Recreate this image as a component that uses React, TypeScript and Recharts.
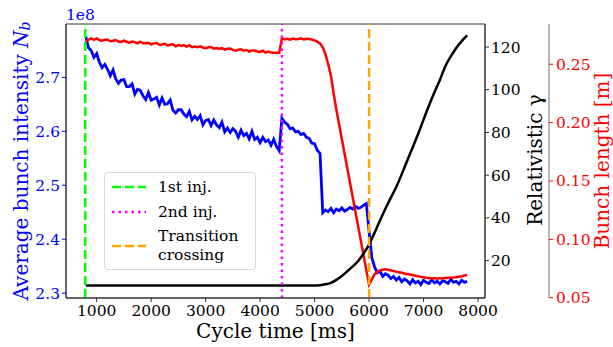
import React from 'react'
import {
  LineChart,
  Line,
  XAxis,
  YAxis,
  ReferenceLine,
  ReferenceArea,
  Legend,
} from 'recharts'

const FONT = '"DejaVu Serif", serif'

// cycle time grid for the measured signals [ms]
const timeMs = [
  800, 850, 900, 950, 1000, 1050, 1100, 1150, 1200, 1250,
  1300, 1350, 1400, 1450, 1500, 1550, 1600, 1650, 1700, 1750,
  1800, 1850, 1900, 1950, 2000, 2050, 2100, 2150, 2200, 2250,
  2300, 2350, 2400, 2450, 2500, 2550, 2600, 2650, 2700, 2750,
  2800, 2850, 2900, 2950, 3000, 3050, 3100, 3150, 3200, 3250,
  3300, 3350, 3400, 3450, 3500, 3550, 3600, 3650, 3700, 3750,
  3800, 3850, 3900, 3950, 4000, 4050, 4100, 4150, 4200, 4250,
  4300, 4350, 4400, 4450, 4500, 4550, 4600, 4650, 4700, 4750,
  4800, 4850, 4900, 4950, 5000, 5050, 5100, 5150, 5200, 5250,
  5300, 5350, 5400, 5450, 5500, 5550, 5600, 5650, 5700, 5750,
  5800, 5850, 5900, 5950, 6000, 6050, 6100, 6150, 6200, 6250,
  6300, 6350, 6400, 6450, 6500, 6550, 6600, 6650, 6700, 6750,
  6800, 6850, 6900, 6950, 7000, 7050, 7100, 7150, 7200, 7250,
  7300, 7350, 7400, 7450, 7500, 7550, 7600, 7650, 7700, 7750,
  7800,
]

// average bunch intensity [1e8]
const intensityE8 = [
  2.776, 2.755, 2.75, 2.737, 2.744, 2.728, 2.718, 2.724, 2.715, 2.703,
  2.714, 2.697, 2.689, 2.695, 2.696, 2.683, 2.683, 2.688, 2.669, 2.678,
  2.676, 2.666, 2.659, 2.672, 2.658, 2.66, 2.663, 2.649, 2.662, 2.65,
  2.651, 2.658, 2.639, 2.634, 2.64, 2.64, 2.632, 2.627, 2.637, 2.621,
  2.628, 2.622, 2.629, 2.612, 2.62, 2.622, 2.611, 2.621, 2.612, 2.607,
  2.617, 2.599, 2.606, 2.598, 2.605, 2.6, 2.589, 2.602, 2.592, 2.596,
  2.586, 2.6, 2.585, 2.589, 2.579, 2.589, 2.581, 2.584, 2.574, 2.585,
  2.572, 2.564, 2.624, 2.617, 2.613, 2.605, 2.606, 2.599, 2.6, 2.594,
  2.596, 2.589, 2.587, 2.578, 2.577, 2.565, 2.559, 2.449, 2.454, 2.451,
  2.457, 2.449, 2.456, 2.453, 2.458, 2.452, 2.455, 2.459, 2.456, 2.461,
  2.457, 2.459, 2.463, 2.466, 2.415, 2.366, 2.349, 2.338, 2.341, 2.331,
  2.336, 2.333, 2.327, 2.331, 2.324, 2.329, 2.321, 2.326, 2.323, 2.317,
  2.325, 2.319, 2.322, 2.316, 2.324, 2.32, 2.318, 2.325, 2.319, 2.322,
  2.317, 2.323, 2.321, 2.318, 2.326, 2.32, 2.322, 2.317, 2.324, 2.32,
  2.322,
]

// bunch length [m]
const bunchLengthM = [
  0.2694, 0.2712, 0.2721, 0.2709, 0.2721, 0.2708, 0.2701, 0.271, 0.271, 0.2697,
  0.2702, 0.2708, 0.2695, 0.2691, 0.2702, 0.2693, 0.2683, 0.2694, 0.269, 0.268,
  0.2694, 0.268, 0.268, 0.2684, 0.2671, 0.2679, 0.2682, 0.2668, 0.2669, 0.2675,
  0.2662, 0.2667, 0.2671, 0.2654, 0.2664, 0.2659, 0.2662, 0.2652, 0.2663, 0.2646,
  0.2652, 0.2646, 0.2653, 0.2644, 0.2637, 0.2646, 0.2648, 0.2634, 0.2639, 0.2633,
  0.2638, 0.2626, 0.2633, 0.2635, 0.2623, 0.2617, 0.2624, 0.2628, 0.2617, 0.2622,
  0.2609, 0.2617, 0.2618, 0.261, 0.2606, 0.2616, 0.26, 0.2608, 0.26, 0.2599,
  0.2598, 0.2597, 0.2723, 0.2712, 0.2718, 0.271, 0.272, 0.2714, 0.2717, 0.2722,
  0.2713, 0.2719, 0.2716, 0.2712, 0.2704, 0.2694, 0.2678, 0.2645, 0.2585, 0.25,
  0.24, 0.225, 0.211, 0.1985, 0.186, 0.1735, 0.161, 0.1485, 0.136, 0.1235,
  0.111, 0.0985, 0.086, 0.0735, 0.0612, 0.0655, 0.07, 0.0722, 0.0733, 0.074,
  0.0743, 0.0739, 0.0734, 0.0728, 0.0723, 0.0718, 0.0713, 0.0707, 0.0702, 0.0698,
  0.0694, 0.0688, 0.0683, 0.0678, 0.0675, 0.0671, 0.0669, 0.0667, 0.0666, 0.0665,
  0.0666, 0.0666, 0.0668, 0.067, 0.0671, 0.0673, 0.0675, 0.068, 0.0684, 0.0689,
  0.0694,
]

// relativistic gamma along the ramp
const gammaTimeMs = [
  800, 5000, 5100, 5200, 5300, 5400, 5500, 5600, 5700, 5800,
  5900, 6000, 6100, 6200, 6300, 6400, 6500, 6600, 6700, 6800,
  6900, 7000, 7100, 7200, 7300, 7400, 7500, 7600, 7700, 7800,
]
const gamma = [
  8.3, 8.3, 8.5, 8.9, 9.6, 11.0, 12.8, 15.0, 17.3, 19.8,
  23.4, 27.5, 33.0, 38.8, 44.3, 49.5, 54.5, 60.5, 66.8, 73.0,
  79.3, 86.0, 92.6, 98.8, 104.6, 111.0, 115.6, 119.6, 122.8, 125.5,
]

const firstInjectionMs = 790
const secondInjectionMs = 4400
const transitionMs = 6000

const xTicks = [1000, 2000, 3000, 4000, 5000, 6000, 7000, 8000]
const intensityTicks = [2.3, 2.4, 2.5, 2.6, 2.7]
const gammaTicks = [20, 40, 60, 80, 100, 120]
const lengthTicks = [0.05, 0.1, 0.15, 0.2, 0.25]

const intensityData = timeMs.map((t, i) => ({ t, v: intensityE8[i] }))
const lengthData = timeMs.map((t, i) => ({ t, v: bunchLengthM[i] }))
const gammaData = gammaTimeMs.map((t, i) => ({ t, v: gamma[i] }))

const legendItems = [
  { lines: ['1st inj.'], color: '#00ff00', dash: '9 4' },
  { lines: ['2nd inj.'], color: '#ff00ff', dash: '2.5 4' },
  { lines: ['Transition', 'crossing'], color: '#ffa500', dash: '9 4' },
]

// tick renderer so the serif font is applied directly on each label
function makeTick(anchor: 'start' | 'middle' | 'end', color: string, digits?: number) {
  return (props: any) => {
    const { x, y, payload } = props
    const v = payload.value as number
    const label = digits === undefined ? String(v) : v.toFixed(digits)
    return (
      <text
        x={x}
        y={y}
        dy={anchor === 'middle' ? '0.71em' : '0.355em'}
        textAnchor={anchor}
        fontFamily={FONT}
        fontSize={15.5}
        fill={color}
      >
        {label}
      </text>
    )
  }
}

function LegendBox() {
  let top = 5
  const rows = legendItems.map((item) => {
    const h = item.lines.length * 18.5
    const row = (
      <div key={item.lines[0]} style={{ position: 'absolute', left: 0, top, width: 150, height: h }}>
        <svg width={34} height={6} style={{ position: 'absolute', left: 7, top: h / 2 - 3 }}>
          <line x1={0} y1={3} x2={34} y2={3} stroke={item.color} strokeWidth={2.5} strokeDasharray={item.dash} />
        </svg>
        <svg width={96} height={h} style={{ position: 'absolute', left: 53, top: 0 }}>
          {item.lines.map((l, k) => (
            <text key={l} x={0} y={k * 18.5 + 14} fontFamily={FONT} fontSize={15.5} fill="#000">
              {l}
            </text>
          ))}
        </svg>
      </div>
    )
    top += h + 6
    return row
  })
  return (
    <div
      style={{
        position: 'relative',
        width: 152,
        height: 98,
        boxSizing: 'border-box',
        border: '1px solid #d6d6d6',
        borderRadius: 4,
        background: 'rgba(255,255,255,0.8)',
      }}
    >
      {rows}
    </div>
  )
}

export default function App() {
  return (
    <div
      style={{
        position: 'absolute',
        left: 0,
        top: 0,
        width: 613,
        height: 347,
        background: '#fff',
        fontFamily: FONT,
      }}
    >
      <LineChart width={613} height={347} margin={{ top: 24, right: 0, bottom: 0, left: 0 }}>
        <XAxis
          type="number"
          dataKey="t"
          domain={[437, 8128]}
          allowDataOverflow
          ticks={xTicks}
          tick={makeTick('middle', '#000')}
          tickSize={4}
          tickMargin={3}
          height={49}
          stroke="#333"
        />
        <YAxis
          yAxisId="left"
          orientation="left"
          domain={[2.291, 2.799]}
          allowDataOverflow
          ticks={intensityTicks}
          tick={makeTick('end', '#0000ff', 1)}
          tickLine={{ stroke: '#0000ff' }}
          axisLine={{ stroke: '#333' }}
          tickSize={4}
          tickMargin={2}
          width={66}
        />
        <YAxis
          yAxisId="gamma"
          orientation="right"
          domain={[2.5, 130.8]}
          allowDataOverflow
          ticks={gammaTicks}
          tick={makeTick('start', '#000')}
          tickLine={{ stroke: '#333' }}
          axisLine={{ stroke: '#333' }}
          tickSize={4}
          tickMargin={2}
          width={64}
        />
        <YAxis
          yAxisId="length"
          orientation="right"
          domain={[0.0497, 0.2845]}
          allowDataOverflow
          ticks={lengthTicks}
          tick={makeTick('start', '#ff0000', 2)}
          tickLine={{ stroke: '#ff0000' }}
          axisLine={{ stroke: '#a0a0a0', strokeWidth: 1.5 }}
          tickSize={4}
          tickMargin={3}
          width={64}
        />
        <ReferenceArea
          yAxisId="left"
          x1={437}
          x2={8128}
          y1={2.291}
          y2={2.799}
          fill="none"
          stroke="#333"
          ifOverflow="visible"
        />
        <Line
          yAxisId="left"
          data={intensityData}
          dataKey="v"
          type="linear"
          stroke="#0000ff"
          strokeWidth={2.8}
          dot={false}
          isAnimationActive={false}
        />
        <Line
          yAxisId="length"
          data={lengthData}
          dataKey="v"
          type="linear"
          stroke="#ff0000"
          strokeWidth={2.5}
          dot={false}
          isAnimationActive={false}
        />
        <Line
          yAxisId="gamma"
          data={gammaData}
          dataKey="v"
          type="monotone"
          stroke="#000"
          strokeWidth={2.5}
          dot={false}
          isAnimationActive={false}
        />
        <ReferenceLine yAxisId="left" x={firstInjectionMs} stroke="#00ff00" strokeWidth={2.5} strokeDasharray="9 4" />
        <ReferenceLine yAxisId="left" x={secondInjectionMs} stroke="#ff00ff" strokeWidth={2.5} strokeDasharray="2.5 4" />
        <ReferenceLine yAxisId="left" x={transitionMs} stroke="#ffa500" strokeWidth={2.5} strokeDasharray="9 4" />
        <Legend
          layout="horizontal"
          align="center"
          verticalAlign="middle"
          wrapperStyle={{ left: 104, top: 172, width: 152, height: 98 }}
          content={() => <LegendBox />}
        />
      </LineChart>
      <svg
        width={613}
        height={347}
        style={{ position: 'absolute', left: 0, top: 0, pointerEvents: 'none' }}
        fontFamily={FONT}
      >
        <text x={66} y={20} fontSize={15.5} fill="#0000ff">1e8</text>
        <text
          x={21}
          y={161}
          fontSize={20}
          fill="#0000ff"
          textAnchor="middle"
          dominantBaseline="central"
          transform="rotate(-90, 21, 161)"
        >
          Average bunch intensity <tspan fontStyle="italic">N</tspan>
          <tspan fontStyle="italic" fontSize={14} dy={4}>b</tspan>
        </text>
        <text x={275.5} y={338} fontSize={20} fill="#000" textAnchor="middle">
          Cycle time [ms]
        </text>
        <text
          x={535}
          y={160}
          fontSize={20}
          fill="#000"
          textAnchor="middle"
          dominantBaseline="central"
          transform="rotate(-90, 535, 160)"
        >
          Relativistic γ
        </text>
        <text
          x={602}
          y={161}
          fontSize={20}
          fill="#ff0000"
          textAnchor="middle"
          dominantBaseline="central"
          transform="rotate(-90, 602, 161)"
        >
          Bunch length [m]
        </text>
      </svg>
    </div>
  )
}
